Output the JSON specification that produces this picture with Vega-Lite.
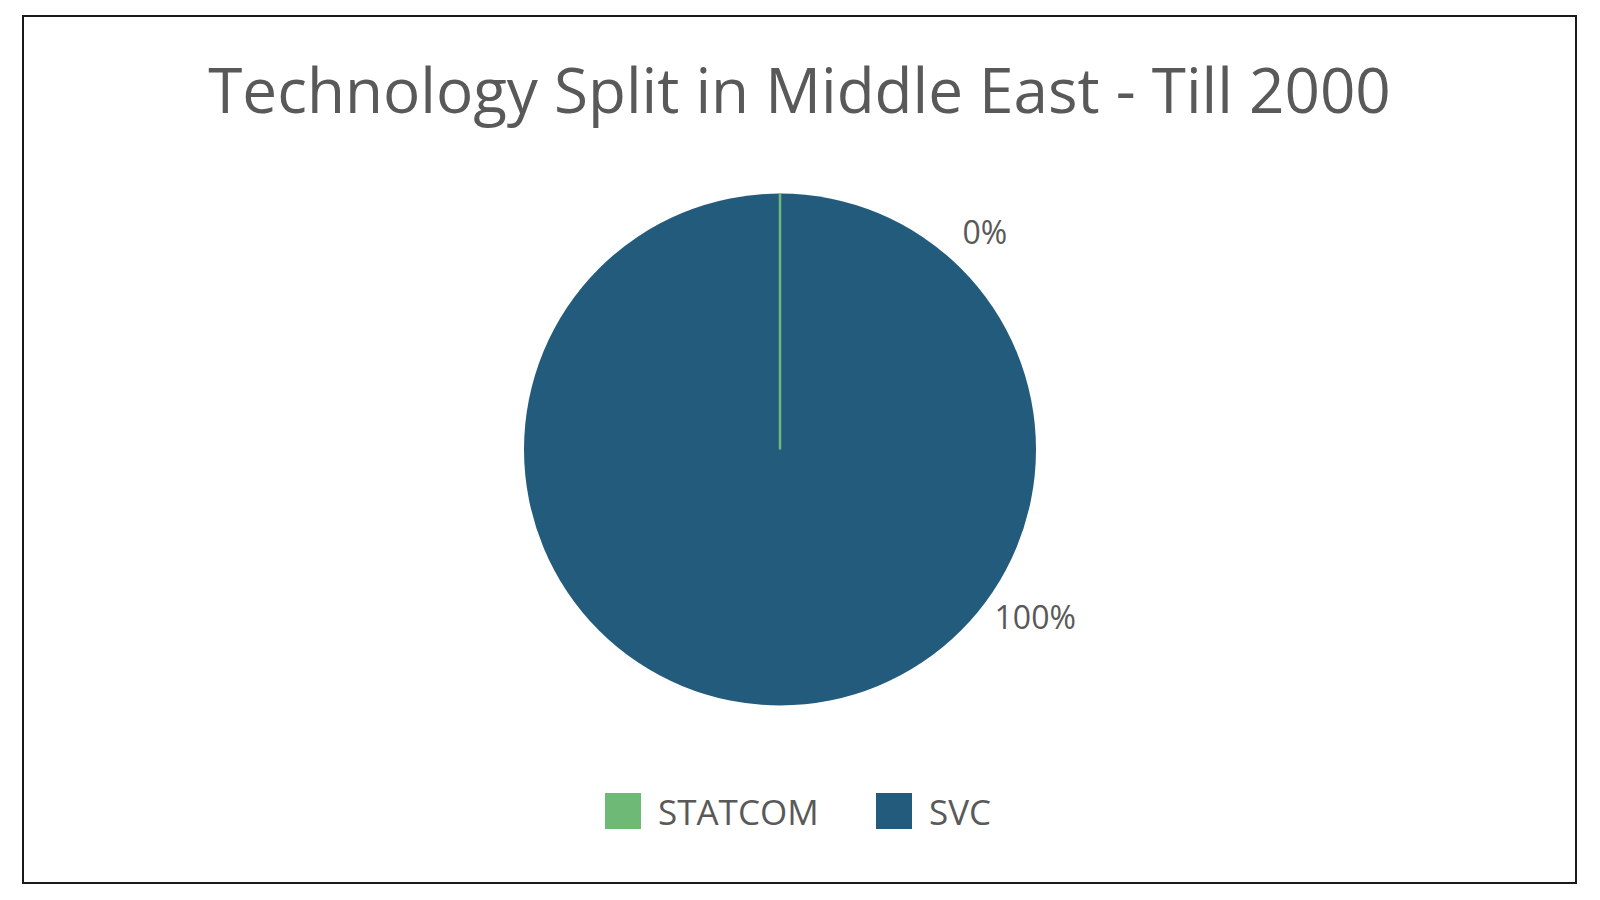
{
  "$schema": "https://vega.github.io/schema/vega-lite/v6.json",
  "width": 1553,
  "height": 867,
  "padding": {"left": 23, "top": 16, "right": 24, "bottom": 17},
  "autosize": {"type": "none"},
  "background": "white",
  "view": {"stroke": "#1a1a1a", "strokeWidth": 2},
  "config": {
    "view": {"stroke": "#1a1a1a", "strokeWidth": 2},
    "font": "Open Sans"
  },
  "title": {
    "text": "Technology Split in Middle East - Till 2000",
    "anchor": "middle",
    "frame": "group",
    "font": "Open Sans",
    "fontSize": 62,
    "fontWeight": 500,
    "color": "#595959",
    "baseline": "alphabetic",
    "offset": -159
  },
  "data": {
    "values": [
      {"technology": "STATCOM", "share": 0},
      {"technology": "SVC", "share": 1}
    ]
  },
  "layer": [
    {
      "mark": {"type": "arc", "outerRadius": 256, "xOffset": -19.5},
      "encoding": {
        "theta": {"field": "share", "type": "quantitative", "stack": true},
        "color": {
          "field": "technology",
          "type": "nominal",
          "scale": {"domain": ["STATCOM", "SVC"], "range": ["#6FB977", "#235B7C"]},
          "legend": {
            "title": null,
            "orient": "none",
            "legendX": 582,
            "legendY": 777,
            "direction": "horizontal",
            "symbolType": "square",
            "symbolSize": 1296,
            "symbolStrokeWidth": 0,
            "symbolOpacity": 1,
            "labelFont": "Open Sans",
            "labelFontSize": 35,
            "labelFontWeight": 500,
            "labelColor": "#595959",
            "labelOffset": 17,
            "labelLimit": 0,
            "columnPadding": 57,
            "padding": 0,
            "encode": {"labels": {"update": {"dy": {"value": 3}}}}
          }
        },
        "order": {"field": "technology"}
      }
    },
    {
      "mark": {"type": "arc", "outerRadius": 256, "xOffset": -19.5, "fillOpacity": 0, "strokeWidth": 2.5},
      "encoding": {
        "theta": {"field": "share", "type": "quantitative", "stack": true},
        "stroke": {
          "field": "technology",
          "type": "nominal",
          "scale": {"domain": ["STATCOM", "SVC"], "range": ["#6FB977", "#235B7C"]},
          "legend": null
        },
        "strokeOpacity": {
          "condition": {"test": "datum.technology === 'STATCOM'", "value": 1},
          "value": 0
        },
        "order": {"field": "technology"}
      }
    },
    {
      "transform": [{"filter": "datum.technology === 'STATCOM'"}],
      "mark": {"type": "text", "xOffset": -19.5, "dy": 4, "font": "Open Sans", "fontSize": 32, "fontWeight": 500, "color": "#595959", "baseline": "middle", "align": "center", "radius": 300},
      "encoding": {
        "theta": {"value": 0.752},
        "text": {"field": "share", "type": "quantitative", "format": ".0%"}
      }
    },
    {
      "transform": [{"filter": "datum.technology === 'SVC'"}],
      "mark": {"type": "text", "xOffset": -19.5, "dy": 4, "font": "Open Sans", "fontSize": 32, "fontWeight": 500, "color": "#595959", "baseline": "middle", "align": "center", "radius": 304},
      "encoding": {
        "theta": {"value": 2.145},
        "text": {"field": "share", "type": "quantitative", "format": ".0%"}
      }
    }
  ]
}
